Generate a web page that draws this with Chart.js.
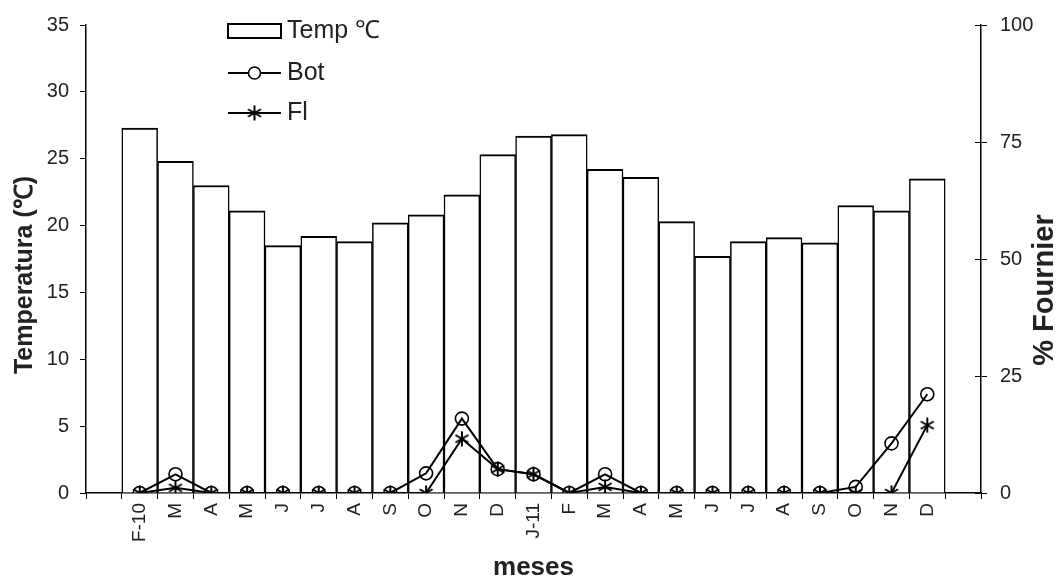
<!DOCTYPE html>
<html>
<head>
<meta charset="utf-8">
<script src="https://cdn.jsdelivr.net/npm/chart.js@4.4.1/dist/chart.umd.min.js"></script>
<style>
  html, body { margin: 0; padding: 0; background: #fff; }
  #wrap { width: 1064px; height: 583px; }
</style>
</head>
<body>
<div id="wrap"><canvas id="c" width="1064" height="583"></canvas></div>
<script>
// Monthly series, Feb 2010 – Dec 2011
const months = ['F-10','M','A','M','J','J','A','S','O','N','D','J-11','F','M','A','M','J','J','A','S','O','N','D'];
const tempC  = [27.3,24.8,23.0,21.1,18.5,19.2,18.8,20.2,20.8,22.3,25.3,26.7,26.8,24.2,23.6,20.3,17.7,18.8,19.1,18.7,21.5,21.1,23.5];
const bot    = [0,4.0,0,0,0,0,0,0,4.2,15.9,5.1,4.0,0,4.0,0,0,0,0,0,0,1.3,10.6,21.1];
const fl     = [0,1.1,0,0,0,0,0,0,0,11.6,5.1,4.0,0,1.3,0,0,0,0,0,0,0,0,14.5];

// Axis ranges and titles
const tempRange = { min: 0, max: 35, step: 5 };
const fournierRange = { min: 0, max: 100, step: 25 };
const leftTitle = 'Temperatura (℃)';
const rightTitle = '% Fournier';
const xTitle = 'meses';

// One empty slot on each side of the month axis
const pad = a => [null, ...a, null];
const labels = ['', ...months, ''];

const INK = '#000';
const TEXT = '#222';
const FONT = 'Liberation Sans, Arial, Helvetica, sans-serif';

function asterisk(size, lw) {
  const c = document.createElement('canvas');
  c.width = c.height = size;
  const g = c.getContext('2d');
  g.strokeStyle = INK;
  g.lineWidth = lw;
  const m = size / 2, r = size / 2 - 0.5;
  for (const a of [90, 30, -30]) {
    const t = a * Math.PI / 180;
    g.beginPath();
    g.moveTo(m - r * Math.cos(t), m - r * Math.sin(t));
    g.lineTo(m + r * Math.cos(t), m + r * Math.sin(t));
    g.stroke();
  }
  return c;
}
const starMark = asterisk(16, 2);

// Legend drawn inside the plot, upper left
const innerLegend = {
  id: 'innerLegend',
  afterDraw(chart) {
    const ctx = chart.ctx;
    const ds = chart.data.datasets;
    const x0 = 228, x1 = 281, tx = 287;
    const rows = [31, 73, 113];
    ctx.save();
    ctx.font = '25px ' + FONT;
    ctx.textBaseline = 'middle';
    ctx.textAlign = 'left';
    ctx.strokeStyle = INK;

    // bar swatch
    ctx.lineWidth = 2;
    ctx.fillStyle = '#fff';
    ctx.fillRect(x0, rows[0] - 7, x1 - x0, 14);
    ctx.strokeRect(x0, rows[0] - 7, x1 - x0, 14);
    ctx.fillStyle = TEXT;
    ctx.fillText(ds[0].label, tx, rows[0]);

    // line swatches
    for (let i = 1; i < 3; i++) {
      const y = rows[i];
      ctx.lineWidth = 2;
      ctx.beginPath();
      ctx.moveTo(x0, y);
      ctx.lineTo(x1, y);
      ctx.stroke();
      const cx = (x0 + x1) / 2;
      if (i === 1) {
        ctx.fillStyle = '#fff';
        ctx.lineWidth = 1.6;
        ctx.beginPath();
        ctx.arc(cx, y, 6, 0, Math.PI * 2);
        ctx.fill();
        ctx.stroke();
      } else {
        ctx.drawImage(starMark, cx - starMark.width / 2, y - starMark.height / 2);
      }
      ctx.fillStyle = TEXT;
      ctx.fillText(ds[i].label, tx, y);
    }
    ctx.restore();
  }
};

// Both value-axis titles read bottom-to-top; right-axis ticks cross the axis line
const axisDecor = {
  id: 'axisDecor',
  afterDraw(chart) {
    const ctx = chart.ctx;
    const drawUp = (text, x, y, size) => {
      ctx.save();
      ctx.translate(x, y);
      ctx.rotate(-Math.PI / 2);
      ctx.font = 'bold ' + size + 'px ' + FONT;
      ctx.fillStyle = TEXT;
      ctx.textAlign = 'center';
      ctx.textBaseline = 'middle';
      ctx.fillText(text, 0, 0);
      ctx.restore();
    };
    drawUp(leftTitle, 25, 275, 25);
    drawUp(rightTitle, 1045, 290, 29);

    const s = chart.scales.y2;
    ctx.save();
    ctx.strokeStyle = INK;
    ctx.lineWidth = 1;
    for (const t of s.ticks) {
      const y = Math.round(s.getPixelForValue(t.value)) + 0.5;
      ctx.beginPath();
      ctx.moveTo(s.left - 6, y);
      ctx.lineTo(s.left, y);
      ctx.stroke();
    }
    ctx.restore();
  }
};

new Chart(document.getElementById('c'), {
  data: {
    labels,
    datasets: [
      {
        type: 'bar',
        label: 'Temp ℃',
        data: pad(tempC),
        yAxisID: 'y',
        order: 3,
        backgroundColor: '#fff',
        borderColor: INK,
        borderWidth: { top: 2, left: 1.5, right: 1.5, bottom: 0 },
        borderSkipped: false,
        barPercentage: 1,
        categoryPercentage: 1
      },
      {
        type: 'line',
        label: 'Bot',
        data: pad(bot),
        yAxisID: 'y2',
        order: 1,
        borderColor: INK,
        borderWidth: 2,
        pointStyle: 'circle',
        pointRadius: 6.5,
        pointBorderWidth: 1.6,
        pointBorderColor: INK,
        pointBackgroundColor: 'rgba(255,255,255,0)',
        tension: 0
      },
      {
        type: 'line',
        label: 'Fl',
        data: pad(fl),
        yAxisID: 'y2',
        order: 2,
        borderColor: INK,
        borderWidth: 2,
        pointStyle: starMark,
        pointBorderColor: INK,
        tension: 0
      }
    ]
  },
  options: {
    responsive: false,
    animation: false,
    devicePixelRatio: 1,
    layout: { padding: { top: 23, left: 0, right: 0, bottom: 0 } },
    plugins: {
      legend: { display: false },
      tooltip: { enabled: false }
    },
    scales: {
      x: {
        type: 'category',
        offset: true,
        afterFit(s) { s.height = 90; },
        border: { display: true, color: INK, width: 1.5 },
        grid: { display: true, offset: true, drawOnChartArea: false, color: INK, tickLength: 6, lineWidth: 1 },
        ticks: {
          autoSkip: false,
          minRotation: 90,
          maxRotation: 90,
          padding: 4,
          color: TEXT,
          font: { family: FONT, size: 19 }
        },
        title: {
          display: true,
          text: xTitle,
          color: TEXT,
          padding: { top: 0, bottom: 0 },
          font: { family: FONT, size: 26, weight: 'bold' }
        }
      },
      y: {
        type: 'linear',
        position: 'left',
        min: tempRange.min,
        max: tempRange.max,
        afterFit(s) { s.width = 86; },
        border: { display: true, color: INK, width: 1.5 },
        grid: { display: true, drawOnChartArea: false, color: INK, tickLength: 6, lineWidth: 1 },
        ticks: {
          stepSize: tempRange.step,
          padding: 11,
          color: TEXT,
          font: { family: FONT, size: 20 }
        }
      },
      y2: {
        type: 'linear',
        position: 'right',
        min: fournierRange.min,
        max: fournierRange.max,
        afterFit(s) { s.width = 83; },
        border: { display: true, color: INK, width: 1.5 },
        grid: { display: true, drawOnChartArea: false, color: INK, tickLength: 6, lineWidth: 1 },
        ticks: {
          stepSize: fournierRange.step,
          padding: 13,
          color: TEXT,
          font: { family: FONT, size: 20 }
        }
      }
    }
  },
  plugins: [innerLegend, axisDecor]
});
</script>
</body>
</html>
